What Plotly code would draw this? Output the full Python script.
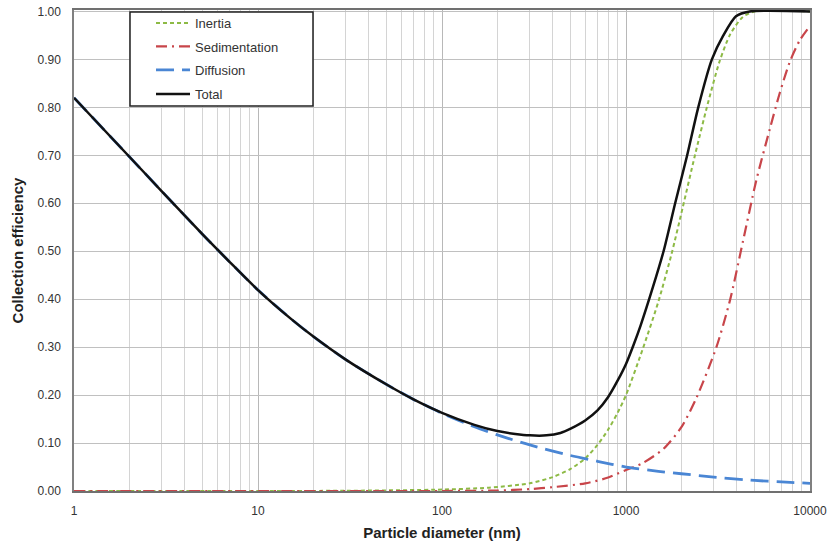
import plotly.graph_objects as go

# Diffusion
diff_d = [1, 2, 3, 5, 7, 10, 15, 20, 30, 50, 70, 100, 150, 200, 300, 500, 700, 1000, 1500, 2000, 3000, 5000, 7000, 10000]
diff_v = [0.82, 0.697, 0.625, 0.535, 0.478, 0.419, 0.36, 0.322, 0.274, 0.222, 0.191, 0.162, 0.134, 0.117, 0.096, 0.074, 0.062, 0.050, 0.041, 0.036, 0.029, 0.022, 0.019, 0.016]

# Inertia
inert_d = [1, 10, 30, 100, 180, 300, 400, 500, 600, 700, 800, 900, 1000, 1230, 1500, 1770, 2030, 2370, 2750, 3220, 3680, 4300, 5000, 10000]
inert_v = [0.0, 0.0, 0.0005, 0.003, 0.007, 0.016, 0.029, 0.046, 0.068, 0.096, 0.128, 0.163, 0.20, 0.295, 0.395, 0.495, 0.59, 0.70, 0.80, 0.895, 0.952, 0.988, 1.0, 1.0]

# Sedimentation
sed_d = [1, 100, 200, 300, 400, 600, 800, 1000, 1230, 1600, 2000, 2420, 3100, 3670, 4330, 5100, 6050, 6850, 7770, 8800, 10000]
sed_v = [0.0, 0.0, 0.001, 0.004, 0.008, 0.016, 0.028, 0.044, 0.058, 0.088, 0.133, 0.195, 0.30, 0.397, 0.522, 0.647, 0.755, 0.83, 0.895, 0.94, 0.97]

# Total
tot_d = [1, 2, 3, 5, 7, 10, 15, 20, 30, 50, 70, 100, 150, 200, 250, 300, 370, 440, 500, 600, 700, 800, 900, 1000, 1100, 1200, 1400, 1600, 1850, 2150, 2470, 2930, 3380, 3960, 4700, 10000]
tot_v = [0.82, 0.697, 0.625, 0.535, 0.478, 0.419, 0.36, 0.322, 0.274, 0.222, 0.191, 0.163, 0.138, 0.125, 0.119, 0.116, 0.116, 0.121, 0.13, 0.147, 0.168, 0.196, 0.23, 0.265, 0.305, 0.345, 0.425, 0.50, 0.60, 0.70, 0.80, 0.90, 0.95, 0.99, 1.0, 1.0]

x_ticks = [1, 10, 100, 1000, 10000]
x_ticklabels = ["1", "10", "100", "1000", "10000"]
minor_vals = [m * 10 ** k for k in range(4) for m in range(2, 10)]
y_ticks = [0.0, 0.1, 0.2, 0.3, 0.4, 0.5, 0.6, 0.7, 0.8, 0.9, 1.0]

fig = go.Figure()
fig.add_trace(go.Scatter(x=inert_d, y=inert_v, mode="lines", name="Inertia", legend="legend",
                         line=dict(color="#8DBA45", width=2, dash="4px,3px", shape="spline", smoothing=0.7)))
fig.add_trace(go.Scatter(x=sed_d, y=sed_v, mode="lines", name="Sedimentation", legend="legend2",
                         line=dict(color="#C8454A", width=2.2, dash="11px,5px,2px,5px", shape="spline", smoothing=0.7)))
fig.add_trace(go.Scatter(x=diff_d, y=diff_v, mode="lines", name="Diffusion", legend="legend3",
                         line=dict(color="#4A86D4", width=2.8, dash="18px,8px", shape="spline", smoothing=0.7)))
fig.add_trace(go.Scatter(x=tot_d, y=tot_v, mode="lines", name="Total", legend="legend4",
                         line=dict(color="#111111", width=2.5, shape="spline", smoothing=0.7)))

font = "Liberation Sans, Arial, sans-serif"
L, R, T, B = 74, 22, 10, 58
pw, ph = 832 - L - R, 549 - T - B


def px_x(p):
    return (p - L) / pw


def px_y(p):
    return (549 - B - p) / ph


leg_common = dict(xanchor="left", yanchor="middle", bgcolor="rgba(0,0,0,0)", borderwidth=0,
                  font=dict(size=13, color="#333333", family=font), itemwidth=34)

fig.update_layout(
    width=832, height=549,
    margin=dict(l=L, r=R, t=T, b=B, autoexpand=False),
    paper_bgcolor="white", plot_bgcolor="white",
    font=dict(family=font, size=12, color="#333333"),
    showlegend=True,
    legend=dict(x=px_x(151), y=px_y(23), **leg_common),
    legend2=dict(x=px_x(151), y=px_y(46.5), **leg_common),
    legend3=dict(x=px_x(151), y=px_y(70), **leg_common),
    legend4=dict(x=px_x(151), y=px_y(94), **leg_common),
    shapes=[dict(type="rect", xref="paper", yref="paper",
                 x0=px_x(130), x1=px_x(313), y0=px_y(106), y1=px_y(12),
                 fillcolor="white", line=dict(color="#222222", width=1.5), layer="above")],
    xaxis=dict(type="log", range=[0, 4], tickvals=x_ticks, ticktext=x_ticklabels,
               showgrid=True, gridcolor="#B8B8B8", gridwidth=1,
               minor=dict(tickvals=minor_vals, showgrid=True, gridcolor="#D4D4D4", gridwidth=1, ticks=""),
               showline=True, linecolor="#707070", linewidth=1.5, mirror=True,
               ticks="outside", ticklen=8, tickcolor="rgba(0,0,0,0)",
               tickfont=dict(size=12, color="#333333"),
               title=dict(text="<b>Particle diameter (nm)</b>", font=dict(size=15, color="#222222"), standoff=10),
               zeroline=False),
    yaxis=dict(range=[0, 1.003], tickvals=y_ticks, tickformat=".2f",
               showgrid=True, gridcolor="#C0C0C0", gridwidth=1,
               showline=True, linecolor="#808080", linewidth=1.5, mirror=True,
               ticks="outside", ticklen=9, tickcolor="rgba(0,0,0,0)",
               tickfont=dict(size=12, color="#333333"),
               title=dict(text="<b>Collection efficiency</b>", font=dict(size=15, color="#222222"), standoff=10),
               zeroline=False),
)

fig.write_html("out.html")
